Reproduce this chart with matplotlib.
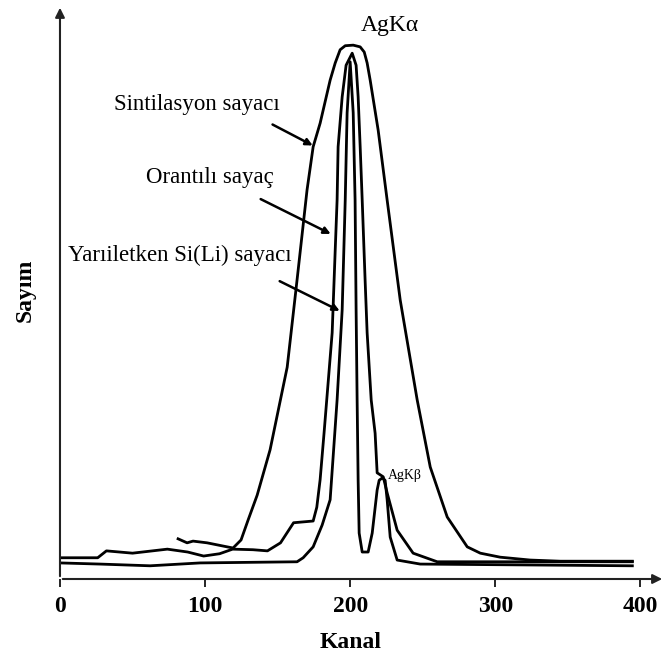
import matplotlib
matplotlib.use("Agg")
import matplotlib.pyplot as plt

# channel / count points
scint_ch = [81.4, 87.6, 91.7, 101.4, 115.2, 119.3, 124.8, 129.7, 135.9, 144.8, 156.6,
            163.4, 170.3, 174.5, 179.3, 186.2, 189.7, 193.1, 196.6, 202.1, 206.9, 209.7,
            211.7, 213.8, 219.3, 225.5, 234.5, 246.2, 255.2, 266.9, 280.7, 289.7, 303.4,
            324.1, 344.8, 394.5]
scint_val = [7.0, 6.3, 6.6, 6.3, 5.6, 5.4, 6.8, 10.3, 14.6, 22.5, 36.9,
             52.1, 67.8, 75.3, 79.4, 86.9, 89.9, 92.2, 92.9, 93.0, 92.7, 91.8,
             89.9, 86.9, 78.2, 66.0, 48.6, 31.2, 19.5, 10.8, 5.6, 4.5, 3.8,
             3.3, 3.1, 3.1]

prop_ch = [0, 26, 32, 50, 74, 88, 99, 110, 119, 133, 143, 152, 161, 174.5, 177, 179.3,
           182, 187.6, 189.7, 191, 191.7, 194.5, 197.2, 201.4, 204.1, 205.5, 206.9, 208.3,
           210.3, 211.7, 214.5, 217.2, 218.6, 222.8, 225.5, 232.4, 243.4, 260, 394.5]
prop_val = [3.7, 3.7, 4.9, 4.5, 5.2, 4.7, 4.0, 4.4, 5.2, 5.1, 4.9, 6.3, 9.8, 10.1, 12.5, 17.3,
            25.4, 42.9, 57.3, 66.0, 75.3, 84.0, 89.5, 91.6, 89.5, 84.0, 75.3, 66.0,
            52.1, 42.9, 31.2, 25.4, 18.5, 17.8, 15.0, 8.5, 4.5, 3.0, 3.0]

sili_ch = [0, 27.6, 62.1, 96.6, 163.4, 167.6, 174.5, 180.7, 186.2, 191, 194.5, 196.6,
           197.9, 200, 202.1, 203.4, 204.1, 204.8, 205.5, 206.2, 208.3, 212.4, 215.2,
           218.6, 220, 222.1, 224.1, 225.5, 227.6, 232.4, 248.3, 394.5]
sili_val = [2.8, 2.6, 2.3, 2.8, 3.0, 3.7, 5.6, 9.4, 13.8, 31.2, 46.9, 66.0,
            81.2, 90.1, 81.2, 66.0, 46.9, 31.2, 17.2, 8.0, 4.7, 4.7, 8.0,
            15.5, 17.2, 17.6, 17.2, 13.8, 7.3, 3.3, 2.6, 2.3]

xticks = [0, 100, 200, 300, 400]

fig = plt.figure(figsize=(6.68, 6.63), dpi=100)
ax = fig.add_axes([0.0898, 0.1267, 0.9057, 0.8658])

for ch, val in [(scint_ch, scint_val), (prop_ch, prop_val), (sili_ch, sili_val)]:
    ax.plot(ch, val, color="black", lw=2.0, solid_joinstyle="round")

ax.set_xlim(0, 417)
ax.set_ylim(0, 100)
for s in ax.spines.values():
    s.set_visible(False)

# axis arrows
ax.annotate("", xy=(1, 0), xytext=(0, 0), xycoords="axes fraction",
            arrowprops=dict(arrowstyle="-|>", color="#222222", lw=1.5, mutation_scale=14))
ax.annotate("", xy=(0, 1), xytext=(0, 0), xycoords="axes fraction",
            arrowprops=dict(arrowstyle="-|>", color="#222222", lw=1.5, mutation_scale=14))

ax.set_xticks(xticks)
ax.set_yticks([])
ax.tick_params(axis="x", direction="out", length=6, width=1.2, pad=6)
for lbl in ax.get_xticklabels():
    lbl.set_fontfamily("Liberation Serif")
    lbl.set_fontweight("bold")
    lbl.set_fontsize(17)

serif = "Liberation Serif"
ax.text(200, -11, "Kanal", family=serif, weight="bold", fontsize=17,
        ha="center", va="center", clip_on=False)
ax.text(-24, 50.3, "Sayım", family=serif, weight="bold", fontsize=17,
        ha="center", va="center", rotation=90, clip_on=False)

ax.text(227.6, 96.5, "AgKα", family=serif, fontsize=17, ha="center", va="center")
ax.text(226, 18.1, "AgKβ", family=serif, fontsize=10, ha="left", va="center")

labels = [
    ("Sintilasyon sayacı", (94.1, 82.6), (144.8, 79.4), (175.9, 75.3)),
    ("Orantılı sayaç", (103.1, 70.0), (136.6, 66.4), (188.3, 59.9)),
    ("Yarıiletken Si(Li) sayacı", (82.8, 56.4), (149.7, 52.1), (194.5, 46.5)),
]
for txt, pos, start, end in labels:
    ax.text(pos[0], pos[1], txt, family=serif, fontsize=16.5, ha="center", va="center")
    ax.annotate("", xy=end, xytext=start,
                arrowprops=dict(arrowstyle="-|>", color="black", lw=1.8, mutation_scale=10))

fig.savefig("out.png", dpi=100)
